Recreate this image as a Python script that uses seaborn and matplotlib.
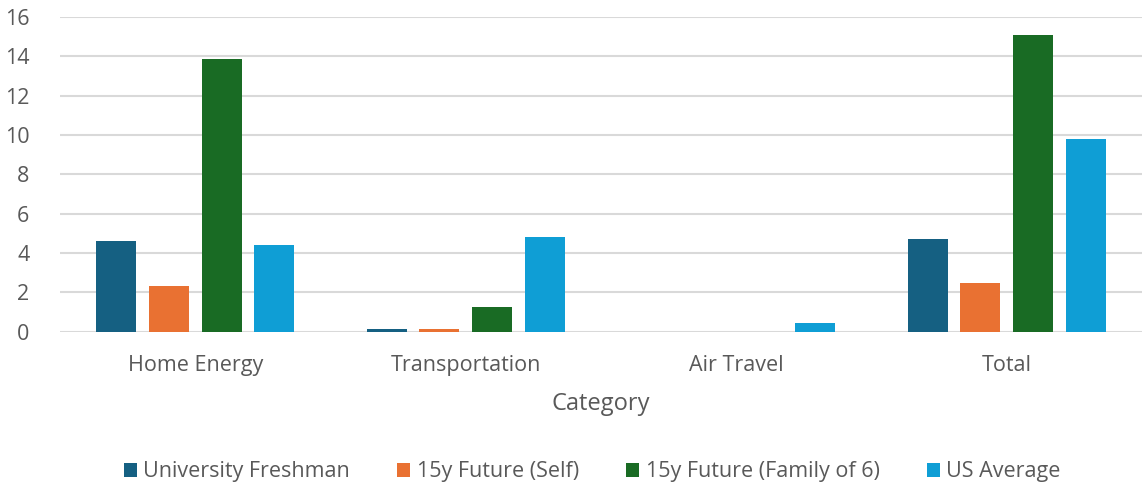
import matplotlib
matplotlib.use("Agg")
from matplotlib import pyplot as plt
import seaborn as sns
import pandas as pd

categories = ["Home Energy", "Transportation", "Air Travel", "Total"]
series = ["University Freshman", "15y Future (Self)", "15y Future (Family of 6)", "US Average"]
freshman = [4.62, 0.14, 0.0, 4.72]
future_self = [2.3, 0.14, 0.0, 2.5]
future_family = [13.88, 1.27, 0.0, 15.1]
us_average = [4.42, 4.84, 0.45, 9.8]
colors = ["#156082", "#E97132", "#196B24", "#0F9ED5"]

rows = []
for name, vals in zip(series, [freshman, future_self, future_family, us_average]):
    for cat, v in zip(categories, vals):
        rows.append({"Category": cat, "Series": name, "Value": v})
df = pd.DataFrame(rows)

sns.set_style("white")
plt.rcParams["font.family"] = ["Open Sans", "DejaVu Sans"]

fig = plt.figure(figsize=(11.42, 4.87), dpi=100)
ax = fig.add_axes([60 / 1142, 1 - 331.7 / 487, 1 - 60 / 1142, (331.7 - 17) / 487])

sns.barplot(data=df, x="Category", y="Value", hue="Series", palette=colors,
            width=0.78, gap=0.24, saturation=1, linewidth=0, ax=ax, legend=True)

ax.set_ylim(0, 16)
ax.set_yticks(range(0, 17, 2))
ax.yaxis.grid(True, color="#D9D9D9", linewidth=1.5)
ax.set_axisbelow(True)
for s in ax.spines.values():
    s.set_visible(False)
ax.tick_params(axis="both", length=0, labelsize=15.5, labelcolor="#595959")
ax.tick_params(axis="x", pad=17)
ax.tick_params(axis="y", pad=22)
ax.set_ylabel("")
ax.set_xlabel("Category", fontsize=17, color="#595959", labelpad=11)

handles, labels = ax.get_legend_handles_labels()
ax.legend(handles, labels, loc="center", bbox_to_anchor=(0.492, (331.7 - 472) / (331.7 - 17)),
          ncol=4, frameon=False, fontsize=15.5, labelcolor="#595959", handlelength=0.6,
          handleheight=0.6, handletextpad=0.3, columnspacing=2.2)

fig.savefig("out.png", dpi=100)
